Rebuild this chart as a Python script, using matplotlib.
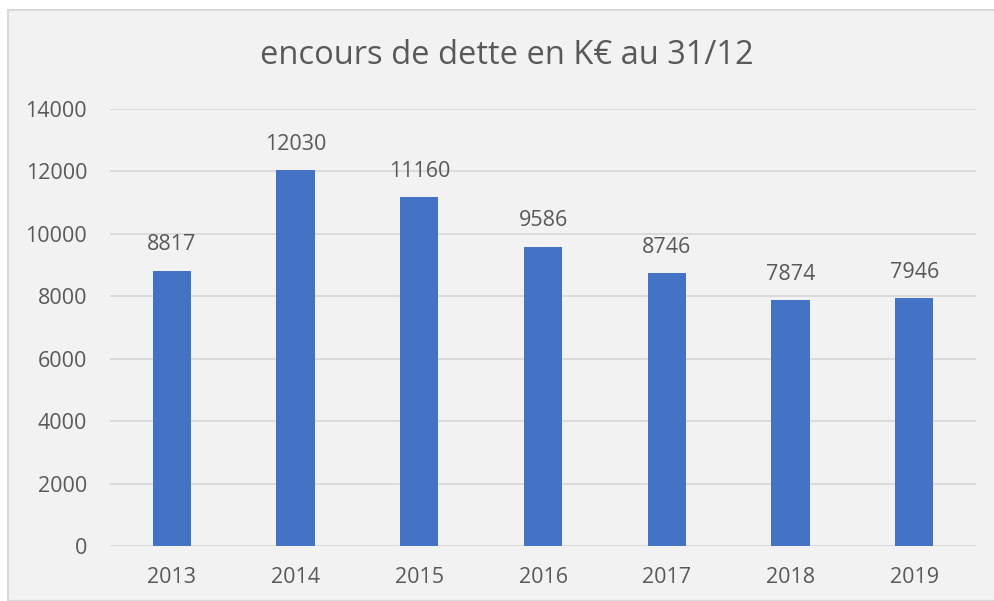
import matplotlib.pyplot as plt
from matplotlib.patches import Rectangle

# Data
years = ['2013', '2014', '2015', '2016', '2017', '2018', '2019']
encours = [8817, 12030, 11160, 9586, 8746, 7874, 7946]
yticks = [0, 2000, 4000, 6000, 8000, 10000, 12000, 14000]

plt.rcParams['font.family'] = ['Open Sans', 'DejaVu Sans']
text_color = '#595959'
grid_color = '#D9D9D9'
bg_color = '#F2F2F2'

fig = plt.figure(figsize=(9.94, 6.01), dpi=100)
fig.patch.set_facecolor('white')

# chart area background with light border (top/left visible)
fig.patches.append(Rectangle((8 / 994, 0), 1, 1 - 10 / 601, transform=fig.transFigure,
                             facecolor=bg_color, edgecolor=grid_color, linewidth=1.5,
                             zorder=-10))

ax = fig.add_axes([110 / 994, 1 - 546 / 601, 866 / 994, (546 - 108.7) / 601])
ax.patch.set_alpha(0)

x = range(len(years))
bars = ax.bar(x, encours, width=0.31, color='#4472C4', zorder=3)

ax.set_xlim(-0.5, len(years) - 0.5)
ax.set_ylim(0, 14000)
ax.set_yticks(yticks)
ax.set_yticklabels([str(v) for v in yticks])
ax.set_xticks(list(x))
ax.set_xticklabels(years)

ax.yaxis.grid(True, color=grid_color, linewidth=1.3, zorder=0)
ax.set_axisbelow(True)
for s in ax.spines.values():
    s.set_visible(False)
ax.tick_params(axis='both', length=0, labelsize=15.5, labelcolor=text_color)
ax.tick_params(axis='y', pad=16.5)
ax.tick_params(axis='x', pad=15)

# value labels above bars
for rect, val in zip(bars, encours):
    ax.annotate(str(val), (rect.get_x() + rect.get_width() / 2, val),
                xytext=(0, 11), textcoords='offset points',
                ha='center', va='bottom', fontsize=15.5, color=text_color)

fig.text(507 / 994, 1 - 55 / 601, 'encours de dette en K€ au 31/12',
         ha='center', va='center', fontsize=23.5, color=text_color)

fig.savefig('out.png', dpi=100, facecolor=fig.get_facecolor())
